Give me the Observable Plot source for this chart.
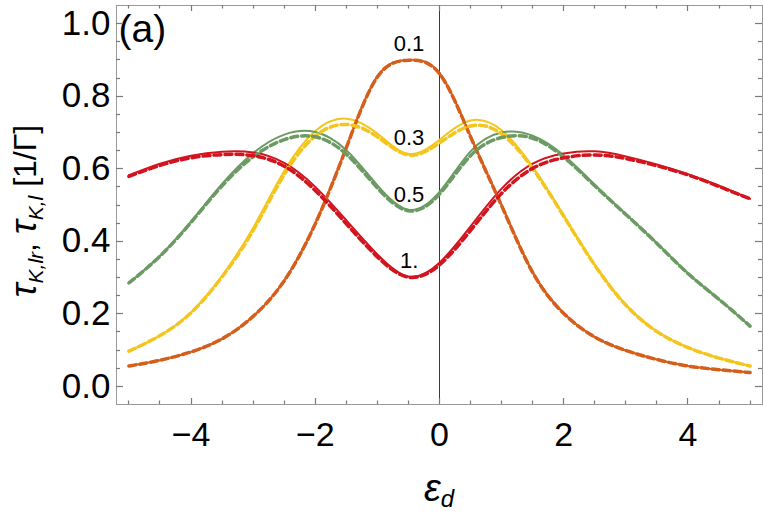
<!DOCTYPE html>
<html>
<head>
<meta charset="utf-8">
<script src="https://cdn.jsdelivr.net/npm/d3@7"></script>
<script src="https://cdn.jsdelivr.net/npm/@observablehq/plot@0.6"></script>
<style>
  html, body { margin: 0; padding: 0; background: #fff; }
  svg { display: block; }
</style>
</head>
<body>
<div id="chart"></div>
<script>
// ---- data ----
const eps = [-5, -4.5, -4, -3.5, -3, -2.5, -2, -1.5, -1, -0.5, 0, 0.5, 1, 1.5, 2, 2.5, 3, 3.5, 4, 4.5, 5];

// U = 0.1 (orange)
const tau01Solid  = [0.056, 0.072, 0.095, 0.131, 0.193, 0.292, 0.450, 0.660, 0.855, 0.900, 0.864, 0.690, 0.500, 0.315, 0.202, 0.136, 0.099, 0.074, 0.056, 0.046, 0.038];
const tau01Dashed = [0.056, 0.072, 0.095, 0.131, 0.193, 0.291, 0.448, 0.658, 0.853, 0.899, 0.862, 0.688, 0.498, 0.314, 0.201, 0.136, 0.099, 0.074, 0.056, 0.046, 0.038];
// U = 0.3 (yellow)
const tau03Solid  = [0.097, 0.140, 0.204, 0.305, 0.437, 0.594, 0.704, 0.738, 0.697, 0.641, 0.680, 0.733, 0.706, 0.605, 0.471, 0.335, 0.225, 0.152, 0.107, 0.078, 0.056];
const tau03Dashed = [0.097, 0.140, 0.203, 0.302, 0.430, 0.584, 0.690, 0.722, 0.688, 0.638, 0.671, 0.718, 0.696, 0.601, 0.469, 0.334, 0.224, 0.151, 0.107, 0.078, 0.056];
// U = 0.5 (green)
const tau05Solid  = [0.285, 0.360, 0.455, 0.558, 0.643, 0.694, 0.701, 0.651, 0.554, 0.487, 0.536, 0.648, 0.700, 0.691, 0.637, 0.556, 0.475, 0.395, 0.312, 0.240, 0.166];
const tau05Dashed = [0.285, 0.359, 0.452, 0.553, 0.633, 0.680, 0.688, 0.640, 0.547, 0.484, 0.530, 0.636, 0.686, 0.684, 0.632, 0.553, 0.474, 0.394, 0.311, 0.240, 0.166];
// U = 1 (red)
const tau10Solid  = [0.582, 0.614, 0.636, 0.647, 0.645, 0.616, 0.550, 0.458, 0.364, 0.303, 0.341, 0.441, 0.545, 0.614, 0.642, 0.648, 0.634, 0.612, 0.585, 0.553, 0.517];
const tau10Dashed = [0.579, 0.609, 0.630, 0.639, 0.636, 0.607, 0.540, 0.448, 0.357, 0.301, 0.335, 0.430, 0.532, 0.601, 0.630, 0.638, 0.628, 0.608, 0.583, 0.551, 0.517];

const seriesKeys   = ["0.1", "0.3", "0.5", "1."];
const seriesColors = ["#D55E1B", "#F4C51C", "#6B9B63", "#D2141E"];

// curve annotations
const labelText = ["0.1", "0.3", "0.5", "1."];
const labelEps  = [-0.49, -0.49, -0.49, -0.49];
const labelTau  = [0.943, 0.684, 0.529, 0.345];

// axis ticks
const xMajor = [-4, -2, 0, 2, 4];
const xMinor = [-5, -4.5, -3.5, -3, -2.5, -1.5, -1, -0.5, 0.5, 1, 1.5, 2.5, 3, 3.5, 4.5, 5];
const yMajor = [0, 0.2, 0.4, 0.6, 0.8, 1.0];
const yMinor = [0.05, 0.1, 0.15, 0.25, 0.3, 0.35, 0.45, 0.5, 0.55, 0.65, 0.7, 0.75, 0.85, 0.9, 0.95];

// ---- build tidy table ----
const solids  = [tau01Solid, tau03Solid, tau05Solid, tau10Solid];
const dasheds = [tau01Dashed, tau03Dashed, tau05Dashed, tau10Dashed];
const rows = [];
seriesKeys.forEach((k, si) => {
  eps.forEach((e, i) => {
    rows.push({eps: e, tau: solids[si][i], key: k, kind: "solid"});
    rows.push({eps: e, tau: dasheds[si][i], key: k, kind: "dashed"});
  });
});
const labels = labelText.map((t, i) => ({text: t, eps: labelEps[i], tau: labelTau[i]}));

const frameColor = "#999999";
const tickColor = "#7a7a7a";

const lineMarks = [];
seriesKeys.forEach((k, si) => {
  lineMarks.push(Plot.line(rows.filter(d => d.key === k && d.kind === "solid"),
    {x: "eps", y: "tau", stroke: seriesColors[si], strokeWidth: 2, curve: "natural"}));
});
seriesKeys.forEach((k, si) => {
  lineMarks.push(Plot.line(rows.filter(d => d.key === k && d.kind === "dashed"),
    {x: "eps", y: "tau", stroke: seriesColors[si], strokeWidth: 3.5, strokeDasharray: "7,4", curve: "natural"}));
});

const chart = Plot.plot({
  width: 763,
  height: 514,
  marginLeft: 116,
  marginRight: 1,
  marginTop: 5,
  marginBottom: 110,
  style: {fontFamily: "'Liberation Sans', Arial, Helvetica, sans-serif", background: "#fff", color: "#000"},
  x: {domain: [-5.2, 5.2], axis: null},
  y: {domain: [-0.05, 1.05], axis: null},
  marks: [
    Plot.ruleX([0], {stroke: "#3a3a3a", strokeWidth: 1}),
    ...lineMarks,
    Plot.text(labels, {x: "eps", y: "tau", text: "text", fontSize: 22, textAnchor: "middle", lineAnchor: "middle", fill: "#000"}),
    Plot.text(["(a)"], {frameAnchor: "top-left", dx: 2, dy: 9, fontSize: 39, textAnchor: "start", lineAnchor: "top", fill: "#000"}),
    Plot.frame({stroke: frameColor, strokeWidth: 1}),
    Plot.axisX(xMajor, {anchor: "bottom", tickSize: 0, tickPadding: 17.5, fontSize: 34, fill: "#000", label: null}),
    Plot.axisY(yMajor, {anchor: "left", tickSize: 0, tickPadding: 6, fontSize: 35, fill: "#000", tickFormat: d3.format(".1f"), label: null})
  ]
});

document.getElementById("chart").appendChild(chart);

const svg = d3.select(chart);
const font = "'Liberation Sans', Arial, Helvetica, sans-serif";

// inward frame ticks on all four sides, positioned with Plot's own scales
const xs = chart.scale("x"), ys = chart.scale("y");
const frameL = Math.min(...xs.range), frameR = Math.max(...xs.range);
const frameT = Math.min(...ys.range), frameB = Math.max(...ys.range);
const ticksG = svg.append("g")
  .attr("stroke", tickColor)
  .attr("stroke-width", 1.2)
  .attr("fill", "none");
function addLine(x1, y1, x2, y2) {
  ticksG.append("line").attr("x1", x1).attr("y1", y1).attr("x2", x2).attr("y2", y2);
}
function xTicks(vals, len) {
  for (const v of vals) {
    const p = Math.round(xs.apply(v)) + 0.5;
    addLine(p, frameB, p, frameB - len);
    addLine(p, frameT, p, frameT + len);
  }
}
function yTicks(vals, len) {
  for (const v of vals) {
    const p = Math.round(ys.apply(v)) + 0.5;
    addLine(frameL, p, frameL + len, p);
    addLine(frameR, p, frameR - len, p);
  }
}
xTicks(xMajor, 6); xTicks(xMinor, 3.5);
yTicks(yMajor, 7); yTicks(yMinor, 4);

// axis titles with sub-scripts
const yl = svg.append("text")
  .attr("transform", "translate(36,211) rotate(-90)")
  .attr("text-anchor", "middle")
  .attr("font-family", font)
  .attr("font-size", 32)
  .attr("fill", "#000");
yl.append("tspan").attr("font-style", "italic").attr("font-size", 37).text("τ");
yl.append("tspan").attr("font-style", "italic").attr("font-size", 21).attr("dy", 7).text("K,lr");
yl.append("tspan").attr("dy", -7).text(", ");
yl.append("tspan").attr("font-style", "italic").attr("font-size", 37).text("τ");
yl.append("tspan").attr("font-style", "italic").attr("font-size", 21).attr("dy", 7).text("K,l");
yl.append("tspan").attr("dy", -7).text(" [1/Γ]");

const xl = svg.append("text")
  .attr("x", 439)
  .attr("y", 501)
  .attr("text-anchor", "middle")
  .attr("font-family", font)
  .attr("fill", "#000");
xl.append("tspan").attr("font-style", "italic").attr("font-size", 38).text("ε");
xl.append("tspan").attr("font-style", "italic").attr("font-size", 24).attr("dy", 6).text("d");
</script>
</body>
</html>
